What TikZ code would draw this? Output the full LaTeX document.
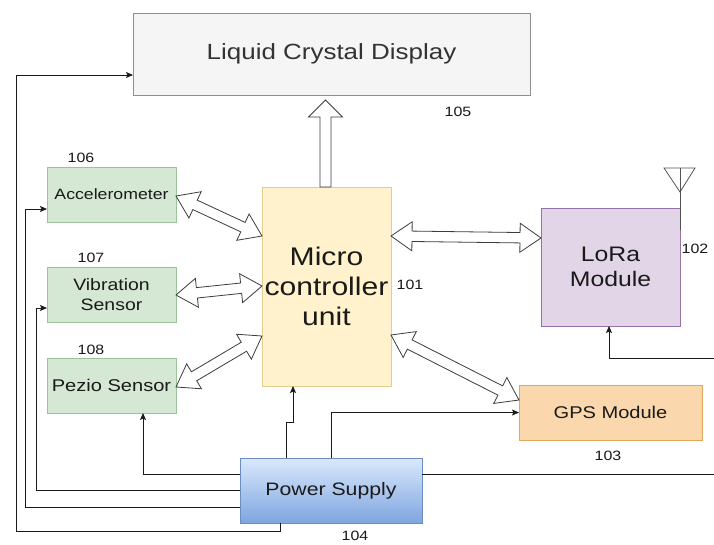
\documentclass[tikz,border=0pt]{standalone}
\usepackage{fontspec}
\setmainfont{Liberation Sans}[FakeStretch=1.18]
\usetikzlibrary{calc,arrows.meta,shadings}
\definecolor{lcdfill}{HTML}{F5F5F5}
\definecolor{lcdline}{HTML}{8F8F8F}
\definecolor{lcdtext}{HTML}{333333}
\definecolor{grfill}{HTML}{D5E8D4}
\definecolor{grline}{HTML}{9CC29A}
\definecolor{yefill}{HTML}{FFF2CC}
\definecolor{yeline}{HTML}{E3CD8A}
\definecolor{pufill}{HTML}{E1D5E7}
\definecolor{puline}{HTML}{9673A6}
\definecolor{orfill}{HTML}{FAD7AC}
\definecolor{orline}{HTML}{E3A75C}
\definecolor{bltop}{HTML}{DAE8FC}
\definecolor{blbot}{HTML}{7EA6E0}
\definecolor{blline}{HTML}{6C8EBF}
\definecolor{ink}{HTML}{1A1A1A}
\newcommand\fsz[2]{\fontsize{#1}{#2}\selectfont}
\newcommand\dblarrow[2]{%
  \draw[hollow] (#1) -- ($(#1)!21pt!(#2)!14.5pt!90:(#2)$) -- ($(#1)!21pt!(#2)!5.2pt!90:(#2)$)
   -- ($(#2)!21pt!(#1)!5.2pt!-90:(#1)$) -- ($(#2)!21pt!(#1)!14.5pt!-90:(#1)$) -- (#2)
   -- ($(#2)!21pt!(#1)!14.5pt!90:(#1)$) -- ($(#2)!21pt!(#1)!5.2pt!90:(#1)$)
   -- ($(#1)!21pt!(#2)!5.2pt!-90:(#2)$) -- ($(#1)!21pt!(#2)!14.5pt!-90:(#2)$) -- cycle;}
\begin{document}
\begin{tikzpicture}[x=1pt,y=1pt,
  box/.style={draw, line width=0.8pt, inner sep=0pt, outer sep=0pt, align=center, text=ink},
  lbl/.style={inner sep=0pt, text=ink, font=\fsz{13.5}{16}},
  conn/.style={draw=ink, line width=0.8pt, -{Stealth[length=7pt,width=6pt,inset=1.5pt]}},
  hollow/.style={draw=ink!85, fill=white, line width=0.8pt, line join=miter}]
\useasboundingbox (0,0) rectangle (714,-544);
\fill[white] (0,0) rectangle (714,-544);
\clip (0,0) rectangle (714,-544);
% nodes
\node[box, fill=lcdfill, draw=lcdline, minimum width=397pt, minimum height=82pt, text=lcdtext, font=\fsz{22}{26}] (lcd) at (331.5,-54) {Liquid Crystal Display};
\node[box, fill=yefill, draw=yeline, minimum width=129pt, minimum height=199pt, font=\fsz{25.5}{30}] (mcu) at (326.5,-286.5) {Micro\\controller\\unit};
\node[box, fill=grfill, draw=grline, minimum width=129pt, minimum height=55pt, font=\fsz{15}{18}] (acc) at (111.5,-194.5) {Accelerometer};
\node[box, fill=grfill, draw=grline, minimum width=129pt, minimum height=55pt, font=\fsz{16.5}{20}] (vib) at (111.5,-294.5) {Vibration\\Sensor};
\node[box, fill=grfill, draw=grline, minimum width=129pt, minimum height=55pt, font=\fsz{17}{20}] (pez) at (111.5,-385.5) {Pezio Sensor};
\node[box, fill=pufill, draw=puline, minimum width=139pt, minimum height=118pt, font=\fsz{21}{25}] (lora) at (610.5,-267) {LoRa\\Module};
\node[box, fill=orfill, draw=orline, minimum width=183pt, minimum height=55pt, font=\fsz{17}{20}] (gps) at (610.5,-412.5) {GPS Module};
\node[box, top color=bltop, bottom color=blbot, draw=blline, minimum width=182pt, minimum height=65pt, font=\fsz{18}{21}] (ps) at (331,-490.5) {Power Supply};
% labels
\node[lbl] (l101) at (410,-285) {101};
\node[lbl] (l102) at (695,-249) {102};
\node[lbl] (l103) at (608,-456) {103};
\node[lbl] (l104) at (355,-536) {104};
\node[lbl] (l105) at (458,-112) {105};
\node[lbl] (l106) at (81,-158) {106};
\node[lbl] (l107) at (91,-258) {107};
\node[lbl] (l108) at (91,-350) {108};
% antenna
\draw[draw=ink!75, line width=0.8pt] ($(lora.north east)+(0,-22)$) -- ($(lora.north east)+(0,40)$);
\draw[draw=ink!75, line width=0.8pt, line join=miter] ($(lora.north east)+(-16,40)$) -- ($(lora.north east)+(15,40)$) -- ($(lora.north east)+(0,16)$) -- cycle;
% hollow arrow to LCD
\coordinate (m1) at ($(mcu.north)+(-1,0)$);
\coordinate (d1) at ($(lcd.south -| mcu.north)+(-1,-5)$);
\draw[hollow] ($(m1)!5.5pt!90:(d1)$) -- ($(d1)!17pt!(m1)!5.5pt!-90:(m1)$) -- ($(d1)!17pt!(m1)!17pt!-90:(m1)$) -- (d1)
  -- ($(d1)!17pt!(m1)!17pt!90:(m1)$) -- ($(d1)!17pt!(m1)!5.5pt!90:(m1)$) -- ($(m1)!5.5pt!-90:(d1)$) -- cycle;
% double hollow arrows
\coordinate (a1) at ($(acc.east)+(0,-1.5)$);
\coordinate (a2) at ($(mcu.west)+(0,50.5)$);
\coordinate (v1) at ($(vib.east)+(0,-0.5)$);
\coordinate (v2) at ($(mcu.west)+(0,0.5)$);
\coordinate (p1) at ($(pez.east)+(0,-1.5)$);
\coordinate (p2) at ($(mcu.west)+(0,-49.5)$);
\coordinate (r1) at ($(mcu.east)+(0,50.5)$);
\coordinate (r2) at ($(lora.west)+(0,29)$);
\coordinate (g1) at ($(mcu.east)+(0,-48.5)$);
\coordinate (g2) at ($(gps.west)+(0,12.5)$);
\dblarrow{a1}{a2}
\dblarrow{v1}{v2}
\dblarrow{p1}{p2}
\dblarrow{r1}{r2}
\dblarrow{g1}{g2}
% power connectors
\draw[conn] ($(ps.west)+(0,16.5)$) -| ($(pez.south)+(31.5,0)$);
\draw[conn] ($(ps.west)+(0,0.5)$) -- ++(-204,0) |- ($(vib.west)+(0,-13.5)$);
\draw[conn] ($(ps.west)+(0,-16.5)$) -- ++(-215,0) |- ($(acc.west)+(0,-14.5)$);
\draw[conn] ($(ps.south)+(-51,0)$) -- ++(0,-8) -- ++(-264,0) |- ($(lcd.west)+(0,-21)$);
\draw[conn] ($(ps.north)+(-45,0)$) -- ++(0,36) -| ($(mcu.south)+(-33.5,0)$);
\draw[conn] (ps.north) |- (gps.west);
\draw[conn] ($(ps.east)+(0,16.5)$) -- ++(300,0) -- ++(0,116) -| ($(lora.south)+(-1.5,0)$);
\end{tikzpicture}
\end{document}
